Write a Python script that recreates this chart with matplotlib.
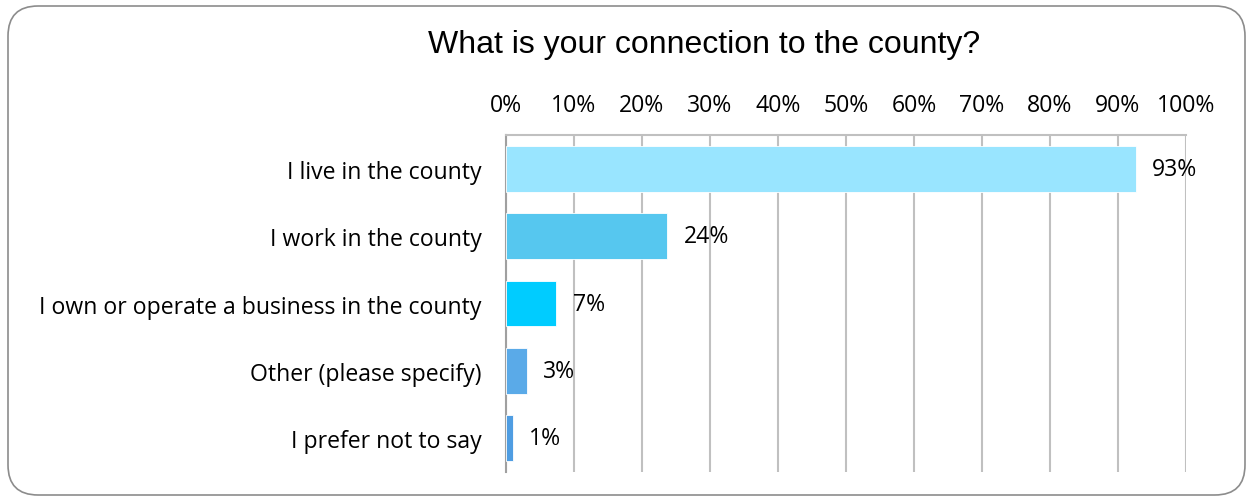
import matplotlib
matplotlib.use("Agg")
import matplotlib.pyplot as plt
from matplotlib.patches import FancyBboxPatch
from matplotlib.ticker import MultipleLocator, PercentFormatter

plt.rcParams["font.family"] = ["Open Sans", "DejaVu Sans"]

categories = ["I live in the county", "I work in the county",
              "I own or operate a business in the county",
              "Other (please specify)", "I prefer not to say"]
values = [92.6, 23.7, 7.4, 3.1, 1.0]
value_labels = ["93%", "24%", "7%", "3%", "1%"]
colors = ["#99E5FF", "#56C7EF", "#00CCFF", "#5AAAE8", "#4F9DE2"]
title = "What is your connection to the county?"

W, H = 1253, 502
fig = plt.figure(figsize=(W / 100, H / 100), dpi=100)

# rounded outer frame
frame = FancyBboxPatch((8 / W, 6 / H), 1237 / W, 489 / H,
                       boxstyle="round,pad=0,rounding_size=0.024",
                       transform=fig.transFigure, facecolor="white",
                       edgecolor="#8c8c8c", linewidth=1.2,
                       mutation_aspect=W / H, zorder=-10)
fig.patches.append(frame)

ax = fig.add_axes([506 / W, 1 - 473 / H, 680 / W, 337 / H])
ax.set_facecolor("none")
ax.set_zorder(5)
pos = list(range(len(categories)))
ax.barh(pos, values, height=0.68, color=colors, edgecolor="white",
        linewidth=0.6, zorder=3)
for p, v, lab in zip(pos, values, value_labels):
    ax.text(v + 2.4, p, lab, va="center", ha="left", fontsize=16.6)

ax.set_xlim(0, 100)
ax.set_ylim(len(categories) - 0.5, -0.5)
ax.xaxis.set_major_locator(MultipleLocator(10))
ax.xaxis.set_major_formatter(PercentFormatter(decimals=0))
ax.xaxis.tick_top()
ax.tick_params(axis="x", length=0, pad=13, labelsize=16.6)
ax.tick_params(axis="y", length=0, pad=17.5, labelsize=16.6)
ax.set_yticks(pos)
ax.set_yticklabels(categories)
ax.grid(axis="x", color="#C0C0C0", linewidth=1.5, zorder=0)
for side in ("bottom", "right"):
    ax.spines[side].set_visible(False)
ax.spines["top"].set_color("#C0C0C0")
ax.spines["top"].set_linewidth(1.5)
ax.spines["left"].set_color("#A0A0A0")
ax.spines["left"].set_linewidth(1.5)

fig.text(704 / W, 1 - 45 / H, title, ha="center", va="center", fontsize=23,
         family=["Liberation Sans", "DejaVu Sans"])

fig.savefig("out.png", dpi=100)
